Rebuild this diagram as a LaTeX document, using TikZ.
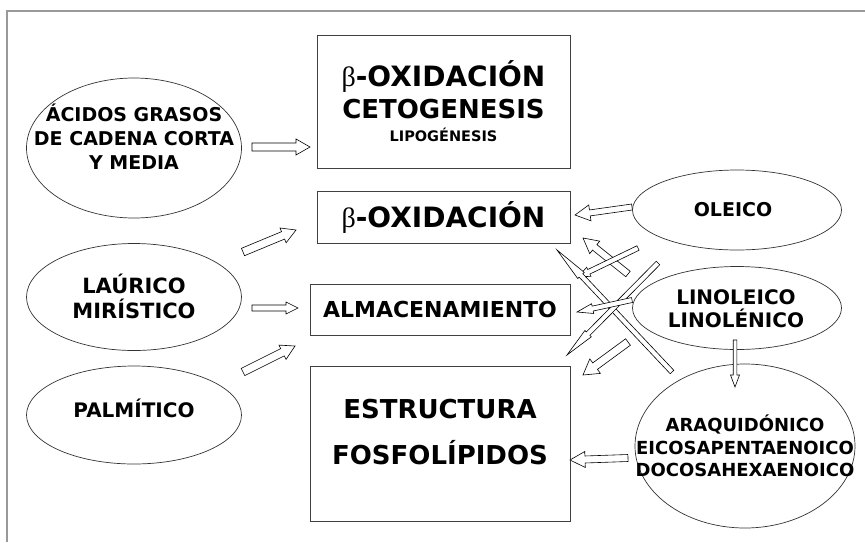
\documentclass[tikz,border=0pt]{standalone}
\usepackage{fontspec}
\setmainfont{DejaVu Sans}
\newfontfamily\greekserif{Liberation Serif}
\usetikzlibrary{calc,shapes.geometric}
\newcommand\gbeta{{\greekserif\mdseries β}}
\newcommand\blockarr[5]{%
  \coordinate (bh) at ($(#2)!#5!(#1)$);
  \draw[barrow] ($(#1)!#3!90:(#2)$) -- ($(bh)!#3!-90:(#1)$) -- ($(bh)!#4!-90:(#1)$) -- (#2)
     -- ($(bh)!#4!90:(#1)$) -- ($(bh)!#3!90:(#1)$) -- ($(#1)!#3!-90:(#2)$) -- cycle;}
\begin{document}
\begin{tikzpicture}[x=1pt,y=-1pt,
  frame/.style={draw=black!40,line width=2.5pt},
  boxn/.style={draw=black!75,line width=0.8pt,rectangle,inner sep=0pt,align=center,font=\bfseries},
  ell/.style={draw=black!80,line width=0.7pt,ellipse,inner sep=0pt},
  lab/.style={align=center,inner sep=0pt,font=\bfseries},
  barrow/.style={draw=black,line width=0.6pt,fill=white,line join=miter}]
\useasboundingbox (0,0) rectangle (865,542);
\draw[frame] (7,542) -- (7,11) -- (865,11);
% boxes
\node[boxn,minimum width=253pt,minimum height=133pt,font=\bfseries\fontsize{26}{32}\selectfont] (b1) at (443.5,101.5)
  {{\fontsize{28}{32}\selectfont\gbeta-OXIDACIÓN}\\CETOGENESIS\\[-9pt]{\fontsize{14.5}{16}\selectfont LIPOGÉNESIS}};
\node[boxn,minimum width=253pt,minimum height=52pt,font=\bfseries\fontsize{28}{32}\selectfont] (b2) at (443.5,217) {\gbeta-OXIDACIÓN};
\node[boxn,minimum width=260pt,minimum height=51pt,font=\bfseries\fontsize{22}{26}\selectfont] (b3) at (440,309.5) {ALMACENAMIENTO};
\node[boxn,minimum width=260pt,minimum height=155pt] (b4) at (440,443.5) {};
\node[lab,font=\bfseries\fontsize{26}{46}\selectfont] (t4) at (440,432.5) {ESTRUCTURA\\FOSFOLÍPIDOS};
% ellipses
\node[ell,minimum width=215pt,minimum height=140pt] (e1) at (134,148) {};
\node[lab,font=\bfseries\fontsize{19}{24}\selectfont] (t1) at (134,137) {ÁCIDOS GRASOS\\DE CADENA CORTA\\Y MEDIA};
\node[ell,minimum width=215pt,minimum height=107pt] (e2) at (134,297) {};
\node[lab,font=\bfseries\fontsize{21}{25}\selectfont] (t2) at (134,296) {LAÚRICO\\MIRÍSTICO};
\node[ell,minimum width=215pt,minimum height=98pt] (e3) at (134,415) {};
\node[lab,font=\bfseries\fontsize{20}{24}\selectfont] (t3) at (134,408) {PALMÍTICO};
\node[ell,minimum width=209pt,minimum height=80pt] (e4) at (737,210) {};
\node[lab,font=\bfseries\fontsize{19}{24}\selectfont] (t5) at (733,210) {OLEICO};
\node[ell,minimum width=209pt,minimum height=83pt] (e5) at (737,308) {};
\node[lab,font=\bfseries\fontsize{20}{23}\selectfont] (t6) at (736,309) {LINOLEICO\\LINOLÉNICO};
\node[ell,minimum width=220pt,minimum height=164pt] (e6) at (745,446) {};
\node[lab,font=\bfseries\fontsize{18}{22.5}\selectfont] (t7) at (745,446) {ARAQUIDÓNICO\\EICOSAPENTAENOICO\\DOCOSAHEXAENOICO};
% arrow end points
\coordinate (a1s) at (252,147);  \coordinate (a1e) at (310,147);
\coordinate (a2s) at (243,252);  \coordinate (a2e) at (296,230);
\coordinate (a3s) at (252,308);  \coordinate (a3e) at (298,308);
\coordinate (a4s) at (243,372);  \coordinate (a4e) at (295,346);
\coordinate (a5s) at (632,207);  \coordinate (a5e) at (575,215);
\coordinate (a6s) at (628,274);  \coordinate (a6e) at (583,238);
\coordinate (a7s) at (638,248);  \coordinate (a7e) at (578,277);
\coordinate (a8s) at (672,372);  \coordinate (a8e) at (557,250);
\coordinate (a9s) at (658,263);  \coordinate (a9e) at (567,355);
\coordinate (a10s) at (632,300); \coordinate (a10e) at (577,312);
\coordinate (a11s) at (628,342); \coordinate (a11e) at (583,375);
\coordinate (a12s) at (735,340); \coordinate (a12e) at (735,387);
\coordinate (a13s) at (628,458); \coordinate (a13e) at (570,460);
\blockarr{a1s}{a1e}{4pt}{8pt}{14pt}
\blockarr{a2s}{a2e}{4pt}{8pt}{14pt}
\blockarr{a3s}{a3e}{3pt}{6pt}{12pt}
\blockarr{a4s}{a4e}{4pt}{8pt}{14pt}
\blockarr{a5s}{a5e}{3pt}{8pt}{15pt}
\blockarr{a6s}{a6e}{3.5pt}{8pt}{15pt}
\blockarr{a7s}{a7e}{2.5pt}{5pt}{12pt}
\blockarr{a8s}{a8e}{2.5pt}{4.5pt}{35pt}
\blockarr{a9s}{a9e}{2.5pt}{4.5pt}{30pt}
\blockarr{a10s}{a10e}{2.5pt}{5pt}{16pt}
\blockarr{a11s}{a11e}{4pt}{9pt}{15pt}
\blockarr{a12s}{a12e}{1.8pt}{4.5pt}{12pt}
\blockarr{a13s}{a13e}{3.5pt}{8pt}{15pt}
\end{tikzpicture}
\end{document}
